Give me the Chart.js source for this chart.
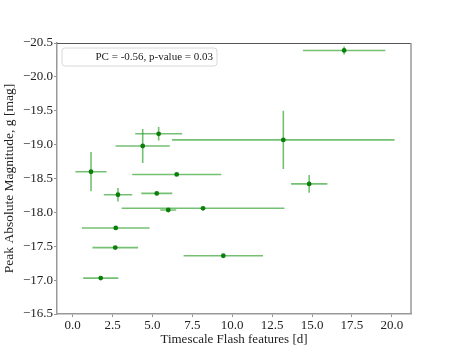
<!DOCTYPE html>
<html>
<head>
<meta charset="utf-8">
<script src="https://cdn.jsdelivr.net/npm/chart.js@4.4.1/dist/chart.umd.min.js"></script>
<style>
  html, body { margin: 0; padding: 0; background: #fff; }
  #wrap { width: 457px; height: 352px; }
</style>
</head>
<body>
<div id="wrap"><canvas id="c" width="457" height="352"></canvas></div>
<script>
// Data
const timescale   = [1.15, 4.39, 5.39, 6.52, 2.84, 5.27, 13.20, 5.99, 8.17, 2.70, 2.67, 1.76, 9.44, 14.82, 17.01];
const timescaleErr= [0.98, 1.70, 1.47, 2.79, 0.89, 0.97, 6.97, 0.50, 5.10, 2.12, 1.43, 1.10, 2.49, 1.14, 2.58];
const peakMag     = [-18.60, -18.98, -19.16, -18.56, -18.26, -18.28, -19.07, -18.035, -18.06, -17.77, -17.48, -17.03, -17.36, -18.42, -20.39];
const peakMagErr  = [0.29, 0.25, 0.10, 0.02, 0.10, 0.02, 0.43, 0.02, 0.02, 0.02, 0.02, 0.02, 0.02, 0.13, 0.06];
const xTicks = [0.0, 2.5, 5.0, 7.5, 10.0, 12.5, 15.0, 17.5, 20.0];
const yTicks = [-20.5, -20.0, -19.5, -19.0, -18.5, -18.0, -17.5, -17.0, -16.5];
const legendLabel = 'PC = -0.56, p-value = 0.03';
const xTitle = 'Timescale Flash features [d]';
const yTitle = 'Peak Absolute Magnitude, g [mag]';

const FONT = "'Liberation Serif', 'DejaVu Serif', serif";
const points = timescale.map((x, i) => ({ x: x, y: peakMag[i] }));

const errorBars = {
  id: 'errorBars',
  beforeDatasetsDraw(chart) {
    const { ctx, scales: { x, y } } = chart;
    ctx.save();
    ctx.strokeStyle = 'rgba(30,155,30,0.62)';
    ctx.lineWidth = 1.6;
    ctx.lineCap = 'butt';
    timescale.forEach((xv, i) => {
      const yv = peakMag[i];
      const py = y.getPixelForValue(yv);
      const px = x.getPixelForValue(xv);
      ctx.beginPath();
      ctx.moveTo(x.getPixelForValue(xv - timescaleErr[i]), py);
      ctx.lineTo(x.getPixelForValue(xv + timescaleErr[i]), py);
      ctx.moveTo(px, y.getPixelForValue(yv - peakMagErr[i]));
      ctx.lineTo(px, y.getPixelForValue(yv + peakMagErr[i]));
      ctx.stroke();
    });
    ctx.restore();
  }
};

const frameAndLegend = {
  id: 'frameAndLegend',
  afterDraw(chart) {
    const { ctx, chartArea: a } = chart;
    ctx.save();
    // top and right spines
    ctx.strokeStyle = '#555';
    ctx.lineWidth = 1;
    ctx.beginPath();
    ctx.moveTo(a.left, a.top + 0.5);
    ctx.lineTo(a.right, a.top + 0.5);
    ctx.stroke();
    ctx.strokeStyle = '#999';
    ctx.lineWidth = 1.5;
    ctx.beginPath();
    ctx.moveTo(a.right, a.top);
    ctx.lineTo(a.right, a.bottom);
    ctx.stroke();
    // legend box
    const bx = a.left + 5, by = a.top + 5, bw = 155, bh = 18, r = 3;
    ctx.fillStyle = 'rgba(255,255,255,0.8)';
    ctx.strokeStyle = '#d8d8d8';
    ctx.lineWidth = 1;
    ctx.beginPath();
    ctx.moveTo(bx + r, by);
    ctx.arcTo(bx + bw, by, bx + bw, by + bh, r);
    ctx.arcTo(bx + bw, by + bh, bx, by + bh, r);
    ctx.arcTo(bx, by + bh, bx, by, r);
    ctx.arcTo(bx, by, bx + bw, by, r);
    ctx.closePath();
    ctx.fill();
    ctx.stroke();
    ctx.fillStyle = '#222';
    ctx.font = "11px " + FONT;
    ctx.textAlign = 'right';
    ctx.textBaseline = 'middle';
    ctx.fillText(legendLabel, bx + bw - 4, by + bh / 2 + 0.5);
    ctx.restore();
  }
};

new Chart(document.getElementById('c'), {
  type: 'scatter',
  data: {
    datasets: [{
      label: legendLabel,
      data: points,
      backgroundColor: '#0a800a',
      borderColor: '#0a800a',
      pointRadius: 2.4,
      pointHoverRadius: 2.4,
      borderWidth: 0
    }]
  },
  options: {
    responsive: false,
    animation: false,
    devicePixelRatio: 1,
    layout: { padding: { left: 0, right: 46, top: 43, bottom: 0 } },
    plugins: { legend: { display: false }, tooltip: { enabled: false } },
    scales: {
      x: {
        type: 'linear',
        min: -0.98,
        max: 21.2,
        afterBuildTicks(s) { s.ticks = xTicks.map(v => ({ value: v })); },
        afterFit(s) { s.height = 38; },
        grid: { drawOnChartArea: false, drawTicks: true, tickLength: 3, tickColor: '#777', tickWidth: 0.8 },
        border: { display: true, color: '#999', width: 1.5 },
        ticks: {
          padding: 1,
          color: '#222',
          maxRotation: 0,
          font: { family: FONT, size: 13 },
          callback: v => v.toFixed(1)
        },
        title: { display: true, text: xTitle, color: '#222', font: { family: FONT, size: 13 }, padding: { top: 0, bottom: 5 } }
      },
      y: {
        type: 'linear',
        reverse: true,
        min: -20.5,
        max: -16.5,
        afterBuildTicks(s) { s.ticks = yTicks.map(v => ({ value: v })); },
        afterFit(s) { s.width = 57; },
        grid: { drawOnChartArea: false, drawTicks: true, tickLength: 3, tickColor: '#777', tickWidth: 0.8 },
        border: { display: true, color: '#999', width: 1.5 },
        ticks: {
          padding: 1,
          color: '#222',
          font: { family: FONT, size: 13 },
          callback: v => (v < 0 ? '\u2212' : '') + Math.abs(v).toFixed(1)
        },
        title: { display: true, text: yTitle, color: '#222', font: { family: FONT, size: 13.5 }, padding: { top: 1, bottom: 0 } }
      }
    }
  },
  plugins: [errorBars, frameAndLegend]
});
</script>
</body>
</html>
